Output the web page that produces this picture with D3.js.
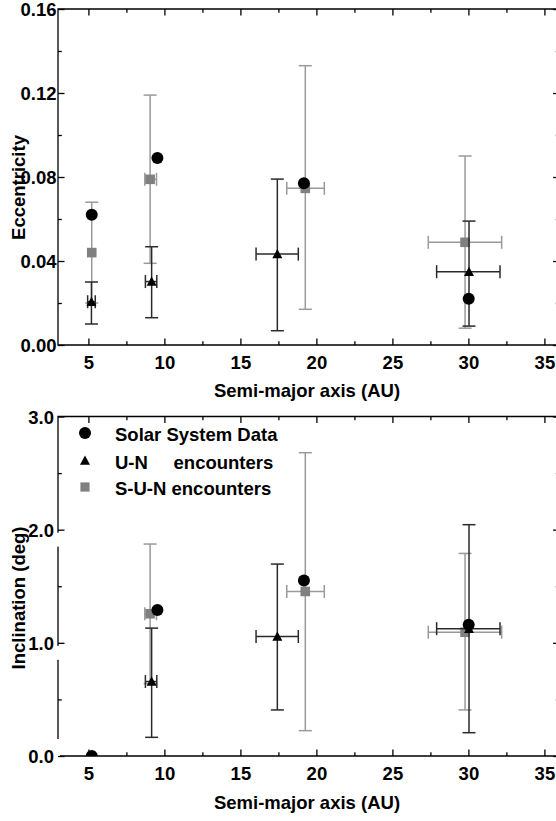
<!DOCTYPE html>
<html>
<head>
<meta charset="utf-8">
<script src="https://cdn.jsdelivr.net/npm/d3@7"></script>
<style>
  html, body { margin: 0; padding: 0; background: #fff; }
  svg { display: block; }
  text { font-family: "Liberation Sans", Arial, Helvetica, sans-serif; font-weight: bold; fill: #000; }
</style>
</head>
<body>
<div id="chart"></div>
<script>
// ---------------- data ----------------
const xTickValues = [5, 10, 15, 20, 25, 30, 35];
const eccTickValues = [0.00, 0.04, 0.08, 0.12, 0.16];
const incTickValues = [0.0, 1.0, 2.0, 3.0];

// Solar System Data (circles)
const solarA = [5.22, 9.54, 19.18, 30.02];
const solarE = [0.062, 0.089, 0.077, 0.022];
const solarI = [0.0, 1.29, 1.55, 1.16];

// U-N encounters (triangles)
const unA   = [5.20, 9.16, 17.43, 30.04];
const unAlo = [4.95, 8.75, 16.03, 27.91];
const unAhi = [5.45, 9.50, 18.81, 32.08];
const unE   = [0.0206, 0.0302, 0.0433, 0.0349];
const unElo = [0.010, 0.013, 0.0068, 0.009];
const unEhi = [0.030, 0.0468, 0.079, 0.059];
const unI   = [null, 0.658, 1.056, 1.125];
const unIlo = [null, 0.165, 0.407, 0.206];
const unIhi = [null, 1.13, 1.696, 2.044];

// S-U-N encounters (squares)
const sunA   = [5.22, 9.06, 19.27, 29.78];
const sunAlo = [5.22, 8.71, 18.05, 27.36];
const sunAhi = [5.22, 9.48, 20.52, 32.19];
const sunE   = [0.044, 0.0789, 0.0746, 0.0489];
const sunElo = [0.020, 0.0389, 0.017, 0.008];
const sunEhi = [0.068, 0.119, 0.133, 0.090];
const sunI   = [null, 1.257, 1.454, 1.094];
const sunIlo = [null, 0.64, 0.224, 0.407];
const sunIhi = [null, 1.873, 2.68, 1.79];

const legendLabels = ["Solar System Data", "U-N     encounters", "S-U-N encounters"];
const xTitle = "Semi-major axis (AU)";
const eccTitle = "Eccentricity";
const incTitle = "Inclination (deg)";

// ---------------- layout ----------------
const W = 556, H = 821;
const X0 = 58, X1 = 559.6;
const FS = 18.5;
const svg = d3.select("#chart").append("svg").attr("width", W).attr("height", H);

const x = d3.scaleLinear().domain([3, 36]).range([X0, X1]);
const xMinor = d3.range(7.5, 36, 5);

const panels = [
  { key: "top", y: d3.scaleLinear().domain([0, 0.16]).range([345, 9]),
    major: eccTickValues, minor: d3.range(0.02, 0.16, 0.04), fmt: d3.format(".2f"),
    labelPad: 1.5, title: eccTitle, titleY: 187.5, xTitleY: 397,
    solar: solarE, un: [unE, unElo, unEhi], sun: [sunE, sunElo, sunEhi], legend: false },
  { key: "bot", y: d3.scaleLinear().domain([0, 3]).range([756, 416.5]),
    major: incTickValues, minor: [0.5, 1.5, 2.5], fmt: d3.format(".1f"),
    labelPad: 4, title: incTitle, titleY: 598, xTitleY: 809,
    solar: solarI, un: [unI, unIlo, unIhi], sun: [sunI, sunIlo, sunIhi], legend: true }
];

const BLACK = "#000", ERR_BLACK = "#2a2a2a", GRAY = "#808080", ERR_GRAY = "#9a9a9a";
const CAP = 6.5;

function triPath(cx, cy, s) {
  return `M${cx},${cy - 5 * s}L${cx + 5 * s},${cy + 4.2 * s}L${cx - 5 * s},${cy + 4.2 * s}Z`;
}

panels.forEach((p, pi) => {
  const y = p.y;
  const yTop = y.range()[1], yBot = y.range()[0];
  const g = svg.append("g");

  const clipId = "clip-" + p.key;
  svg.append("clipPath").attr("id", clipId).append("rect")
    .attr("x", X0).attr("y", yTop).attr("width", X1 - X0).attr("height", yBot - yTop);

  // frame
  g.append("path")
    .attr("d", `M${X0},${yTop}H${X1}V${yBot}H${X0}Z`)
    .attr("fill", "none").attr("stroke", "#000").attr("stroke-width", 1.3);

  const addAxis = (axis, tf) => {
    const a = g.append("g").attr("transform", tf).call(axis);
    a.select(".domain").remove();
    a.selectAll("line").attr("stroke", "#000").attr("stroke-width", 1.3);
    a.selectAll("text").attr("font-size", FS).attr("fill", "#000")
      .style("font-family", '"Liberation Sans", Arial, sans-serif').style("font-weight", "bold");
    return a;
  };
  addAxis(d3.axisBottom(x).tickValues(xTickValues).tickSize(-6.5).tickPadding(10.5).tickFormat(d3.format("d")), `translate(0,${yBot})`);
  addAxis(d3.axisBottom(x).tickValues(xMinor).tickSize(-3.8).tickFormat(""), `translate(0,${yBot})`);
  addAxis(d3.axisTop(x).tickValues(xTickValues).tickSize(-6.5).tickFormat(""), `translate(0,${yTop})`);
  addAxis(d3.axisTop(x).tickValues(xMinor).tickSize(-3.8).tickFormat(""), `translate(0,${yTop})`);
  addAxis(d3.axisRight(y).tickValues(p.major).tickSize(-6.5).tickFormat(""), `translate(${X1},0)`);
  addAxis(d3.axisRight(y).tickValues(p.minor).tickSize(-3.8).tickFormat(""), `translate(${X1},0)`);
  addAxis(d3.axisLeft(y).tickValues(p.minor).tickSize(-3.8).tickFormat(""), `translate(${X0},0)`);

  // white gaps in the lower panel's left spine (as in the source)
  if (pi === 1) {
    [2, 1].forEach(v => {
      g.append("rect").attr("x", X0 - 1.5).attr("y", y(v) + 3).attr("width", 3).attr("height", 14).attr("fill", "#fff");
    });
    g.append("rect").attr("x", X0 - 1.5).attr("y", y(0) - 17).attr("width", 3.5).attr("height", 19).attr("fill", "#fff");
  }
  const yl = addAxis(d3.axisLeft(y).tickValues(p.major).tickSize(-6.5).tickPadding(p.labelPad).tickFormat(p.fmt), `translate(${X0},0)`);
  yl.selectAll("text").attr("dy", "0.36em");

  // titles
  g.append("text").attr("x", 307).attr("y", p.xTitleY).attr("text-anchor", "middle")
    .attr("font-size", FS).text(xTitle);
  g.append("text").attr("transform", `translate(25,${p.titleY}) rotate(-90)`)
    .attr("text-anchor", "middle").attr("font-size", FS).text(p.title);

  const drawErr = (layer, xs, xlo, xhi, ys, ylo, yhi, color) => {
    xs.forEach((xv, i) => {
      if (ys[i] == null) return;
      const cx = x(xv), cy = y(ys[i]);
      const e = layer.append("g").attr("stroke", color).attr("stroke-width", 1.5).attr("fill", "none");
      if (ylo[i] != null && yhi[i] != null && ylo[i] !== yhi[i]) {
        const a = y(ylo[i]), b = y(yhi[i]);
        e.append("line").attr("x1", cx).attr("x2", cx).attr("y1", a).attr("y2", b);
        e.append("line").attr("x1", cx - CAP).attr("x2", cx + CAP).attr("y1", a).attr("y2", a);
        e.append("line").attr("x1", cx - CAP).attr("x2", cx + CAP).attr("y1", b).attr("y2", b);
      }
      if (xlo && xlo[i] !== xhi[i]) {
        const a = x(xlo[i]), b = x(xhi[i]);
        e.append("line").attr("x1", a).attr("x2", b).attr("y1", cy).attr("y2", cy);
        e.append("line").attr("x1", a).attr("x2", a).attr("y1", cy - CAP).attr("y2", cy + CAP);
        e.append("line").attr("x1", b).attr("x2", b).attr("y1", cy - CAP).attr("y2", cy + CAP);
      }
    });
  };

  const data = g.append("g");

  // S-U-N (gray squares)
  drawErr(data, sunA, sunAlo, sunAhi, p.sun[0], p.sun[1], p.sun[2], ERR_GRAY);
  const sq = data.append("g").attr("clip-path", `url(#${clipId})`);
  sunA.forEach((xv, i) => {
    if (p.sun[0][i] == null) return;
    sq.append("rect").attr("x", x(xv) - 4.8).attr("y", y(p.sun[0][i]) - 4.8)
      .attr("width", 9.6).attr("height", 9.6).attr("fill", GRAY);
  });

  // U-N (black triangles)
  drawErr(data, unA, unAlo, unAhi, p.un[0], p.un[1], p.un[2], ERR_BLACK);
  const tr = data.append("g").attr("clip-path", `url(#${clipId})`);
  unA.forEach((xv, i) => {
    if (p.un[0][i] == null) return;
    tr.append("path").attr("d", triPath(x(xv), y(p.un[0][i]), 1)).attr("fill", BLACK);
  });

  // Solar System (black circles)
  const marks = g.append("g").attr("clip-path", `url(#${clipId})`);
  solarA.forEach((xv, i) => {
    marks.append("circle").attr("cx", x(xv)).attr("cy", y(p.solar[i])).attr("r", 6).attr("fill", BLACK);
  });

  // legend
  if (p.legend) {
    const lg = g.append("g");
    const rows = [433, 460.5, 487];
    lg.append("circle").attr("cx", 85).attr("cy", rows[0]).attr("r", 6).attr("fill", BLACK);
    lg.append("path").attr("d", triPath(85, rows[1], 1)).attr("fill", BLACK);
    lg.append("rect").attr("x", 85 - 4.6).attr("y", rows[2] - 4.6).attr("width", 9.2).attr("height", 9.2).attr("fill", GRAY);
    legendLabels.forEach((t, i) => {
      lg.append("text").attr("x", 115).attr("y", rows[i] + 8).attr("font-size", FS)
        .attr("xml:space", "preserve").style("white-space", "pre").text(t);
    });
  }
});
</script>
</body>
</html>
